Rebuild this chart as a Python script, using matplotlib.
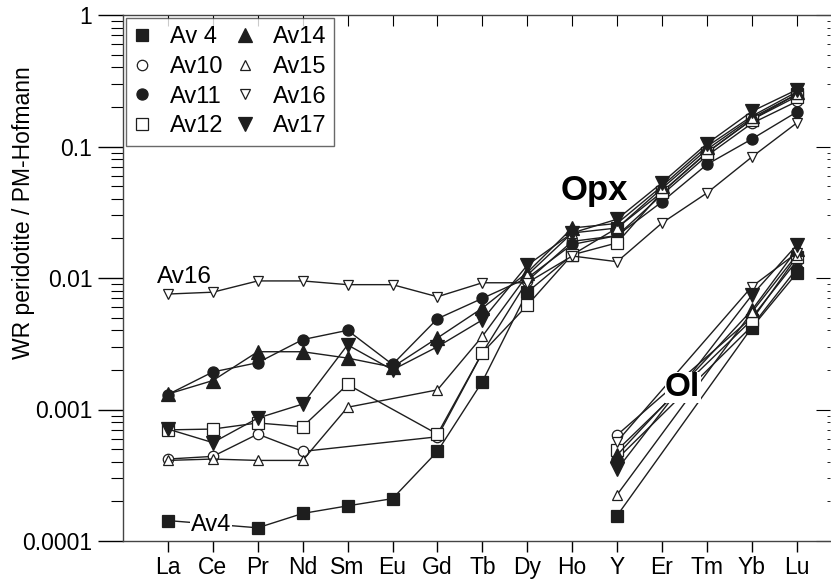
import numpy as np
import matplotlib
matplotlib.use("Agg")
from matplotlib import pyplot as plt
from matplotlib.ticker import FixedLocator, LogLocator, NullFormatter

plt.rcParams['font.family'] = ['Liberation Sans', 'DejaVu Sans']

elements = ['La', 'Ce', 'Pr', 'Nd', 'Sm', 'Eu', 'Gd', 'Tb', 'Dy', 'Ho', 'Y', 'Er', 'Tm', 'Yb', 'Lu']
nan = np.nan

# whole-rock / PM, orthopyroxene-type patterns (all elements)
av4 = [1.43e-4, nan, 1.26e-4, 1.62e-4, 1.85e-4, 2.1e-4, 4.8e-4, 1.63e-3, 7.8e-3, 0.015, 0.024, 0.045, 0.09, 0.16, 0.25]
av10 = [4.2e-4, 4.4e-4, 6.5e-4, 4.8e-4, nan, nan, 6.2e-4, 2.7e-3, 9.5e-3, 0.019, 0.021, 0.043, 0.085, 0.15, 0.22]
av11 = [1.3e-3, 1.93e-3, 2.27e-3, 3.4e-3, 4.0e-3, 2.2e-3, 4.9e-3, 7.0e-3, 0.010, 0.018, 0.021, 0.038, 0.073, 0.114, 0.183]
av12 = [7.0e-4, 7.1e-4, 7.9e-4, 7.4e-4, 1.55e-3, nan, 6.5e-4, 2.7e-3, 6.2e-3, 0.015, 0.0185, 0.045, 0.09, 0.16, 0.24]
av14 = [1.31e-3, 1.66e-3, 2.75e-3, 2.75e-3, 2.46e-3, 2.1e-3, 3.5e-3, 5.9e-3, 0.011, 0.024, 0.026, 0.05, 0.10, 0.17, 0.26]
av15 = [4.1e-4, 4.2e-4, 4.1e-4, 4.1e-4, 1.04e-3, nan, 1.41e-3, 3.6e-3, 0.0105, 0.022, 0.024, 0.048, 0.095, 0.165, 0.25]
av16 = [7.55e-3, 7.8e-3, 9.5e-3, 9.5e-3, 8.9e-3, 8.9e-3, 7.2e-3, 9.2e-3, 9.2e-3, 0.0147, 0.0133, 0.0262, 0.0443, 0.0832, 0.151]
av17 = [7.1e-4, 5.6e-4, 8.6e-4, 1.1e-3, 3.1e-3, 2.0e-3, 3.0e-3, 4.8e-3, 0.0125, 0.022, 0.028, 0.053, 0.105, 0.185, 0.27]

# olivine-type patterns (Y, Yb, Lu only)
ol_elements = ['Y', 'Yb', 'Lu']
ol_av4 = [1.56e-4, 4.2e-3, 0.0109]
ol_av10 = [6.4e-4, 5.0e-3, 0.0135]
ol_av11 = [4.2e-4, 4.3e-3, 0.0118]
ol_av12 = [4.9e-4, 4.8e-3, 0.0145]
ol_av14 = [4.5e-4, 5.7e-3, 0.0165]
ol_av15 = [2.25e-4, 5.5e-3, 0.0150]
ol_av16 = [5.7e-4, 8.6e-3, 0.0155]
ol_av17 = [3.5e-4, 7.4e-3, 0.0178]

labels = ['Av 4', 'Av10', 'Av11', 'Av12', 'Av14', 'Av15', 'Av16', 'Av17']
opx = [av4, av10, av11, av12, av14, av15, av16, av17]
ol = [ol_av4, ol_av10, ol_av11, ol_av12, ol_av14, ol_av15, ol_av16, ol_av17]

dark = '#1e1e1e'
styles = [
    dict(marker='s', mfc=dark, ms=8),
    dict(marker='o', mfc='white', ms=7.5),
    dict(marker='o', mfc=dark, ms=8),
    dict(marker='s', mfc='white', ms=8),
    dict(marker='^', mfc=dark, ms=10),
    dict(marker='^', mfc='white', ms=7),
    dict(marker='v', mfc='white', ms=7.5),
    dict(marker='v', mfc=dark, ms=10),
]

fig = plt.figure(figsize=(8.31, 5.83), dpi=100)
ax = fig.add_axes([123 / 831, 42 / 583, 707 / 831, 526 / 583])

x = np.arange(len(elements))
ol_x = np.array([elements.index(e) for e in ol_elements])

for lab, ys, oys, st in zip(labels, opx, ol, styles):
    ys = np.array(ys, dtype=float)
    ok = ~np.isnan(ys)
    ax.plot(x[ok], ys[ok], color=dark, lw=1.0, mec=dark, mew=0.9, label=lab, **st)
    ax.plot(ol_x, oys, color=dark, lw=1.0, mec=dark, mew=0.9, **st)

ax.set_yscale('log')
ax.set_ylim(1e-4, 1)
ax.set_xlim(-1, 14.74)
ax.set_xticks(x)
ax.set_xticklabels(elements, fontsize=16.5)
ax.yaxis.set_major_locator(FixedLocator([1e-4, 1e-3, 1e-2, 1e-1, 1]))
ax.set_yticklabels(['0.0001', '0.001', '0.01', '0.1', '1'], fontsize=16.5)
ax.yaxis.set_minor_locator(LogLocator(base=10, subs=np.arange(2, 10)))
ax.yaxis.set_minor_formatter(NullFormatter())
ax.set_ylabel('WR peridotite / PM-Hofmann', fontsize=16.5)
ax.yaxis.set_label_coords(-0.125, 0.625)

ax.tick_params(axis='y', which='major', direction='out', length=18, width=1, left=True, right=False, pad=4)
ax.tick_params(axis='y', which='minor', direction='out', length=9, width=0.8, left=True, right=False)
ax.tick_params(axis='x', which='major', direction='out', length=8, width=1, top=False, pad=3)
for side in ['left', 'top', 'bottom']:
    ax.spines[side].set_linewidth(1.0)
    ax.spines[side].set_color('#444444')
ax.spines['right'].set_visible(False)

# inward ticks on the top and right edges
tx = ax.secondary_xaxis('top')
tx.set_xticks(x)
tx.tick_params(direction='in', length=8, labeltop=False)
tx.spines['top'].set_visible(False)
ry = ax.secondary_yaxis('right')
ry.set_yticks([1e-4, 1e-3, 1e-2, 1e-1, 1])
ry.yaxis.set_minor_locator(LogLocator(base=10, subs=np.arange(2, 10)))
ry.yaxis.set_minor_formatter(NullFormatter())
ry.tick_params(which='major', direction='in', length=10, labelright=False)
ry.tick_params(which='minor', direction='in', length=2.5)
ry.spines['right'].set_visible(False)

leg = ax.legend(ncol=2, loc='upper left', fontsize=17, frameon=True, fancybox=False,
                borderaxespad=0.12, handlelength=0.7, handletextpad=0.8, columnspacing=0.6,
                labelspacing=0.33, borderpad=0.35)
leg.get_frame().set_edgecolor('#444444')
leg.get_frame().set_linewidth(1.0)
for h in leg.legend_handles:
    h.set_linestyle('none')

ax.text(-0.25, 0.0092, 'Av16', fontsize=17.5, ha='left', va='baseline')
ax.text(0.96, 1.33e-4, 'Av4', fontsize=17, ha='center', va='center',
        bbox=dict(facecolor='white', edgecolor='none', pad=0.5), zorder=5)
ax.text(9.5, 0.039, 'Opx', fontsize=25, fontweight='bold', ha='center', va='baseline')
ax.text(11.46, 1.47e-3, 'Ol', fontsize=24, fontweight='bold', ha='center', va='center',
        bbox=dict(facecolor='white', edgecolor='none', pad=0.2), zorder=5)

fig.savefig('out.png', dpi=100)
